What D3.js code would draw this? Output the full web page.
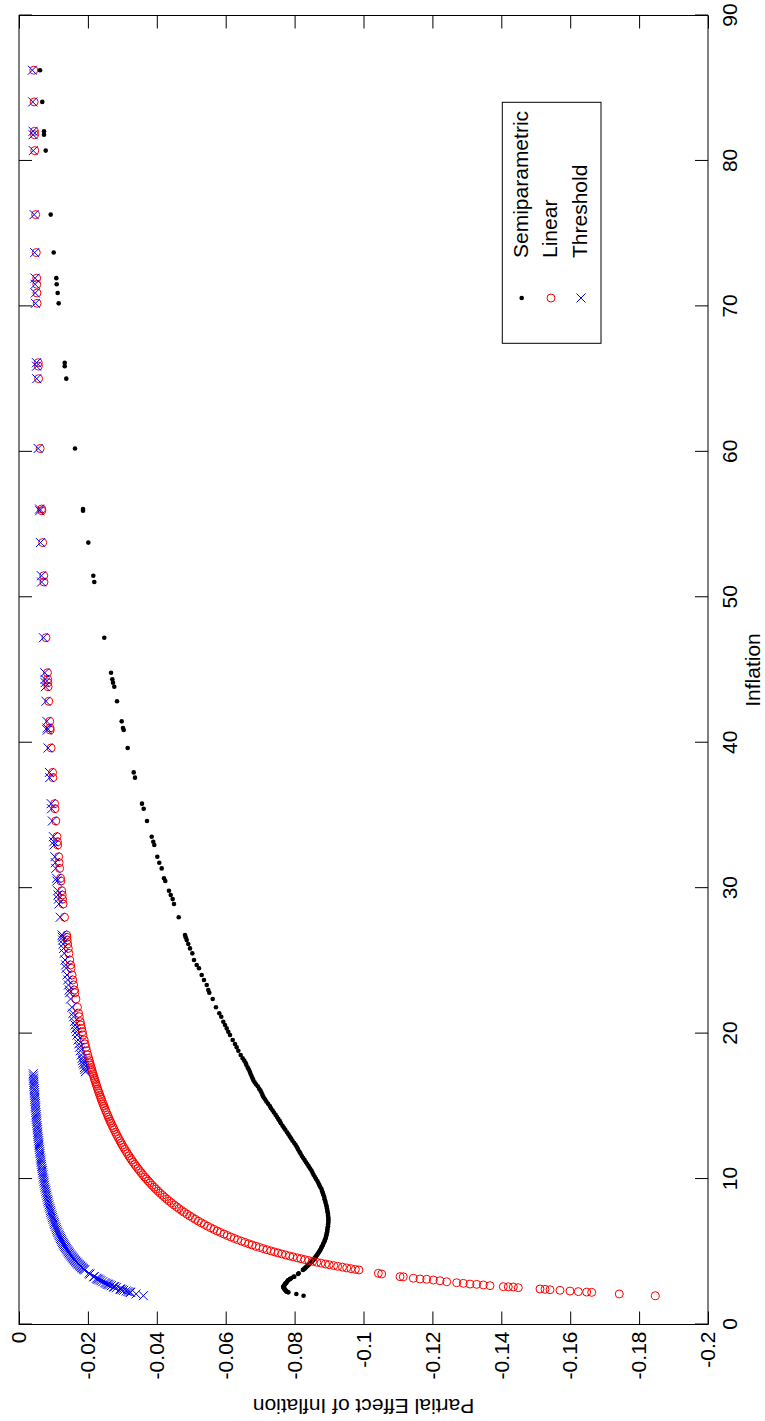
<!DOCTYPE html>
<html>
<head>
<meta charset="utf-8">
<script src="https://cdn.jsdelivr.net/npm/d3@7"></script>
<style>
  html, body { margin: 0; padding: 0; background: #ffffff; }
  svg { display: block; }
  text { font-family: "Liberation Sans", Arial, Helvetica, sans-serif; fill: #000; }
</style>
</head>
<body>
<svg id="chart" width="765" height="1421"></svg>
<script>
// Observed inflation rates (one entry per observation, shared by all three models)
const inflation = [
  86.24, 84.06, 82.04, 81.80, 80.71, 76.31, 73.70, 71.94, 71.52, 70.92,
  70.21, 66.13, 65.89, 65.03, 60.23, 56.07, 55.95, 53.76, 51.48, 51.05,
  47.22, 44.81, 44.36, 44.13, 43.85, 42.85, 41.47, 41.01, 40.87, 39.64,
  37.96, 37.60, 35.81, 35.46, 34.62, 33.54, 33.19, 32.97, 32.16, 31.75,
  31.36, 30.68, 30.49, 29.82, 29.53, 29.25, 28.91, 28.00, 26.78, 26.62,
  26.43, 26.16, 25.86, 25.52, 25.06, 24.72, 24.49, 24.03, 23.69, 23.34,
  23.00, 22.81, 22.38, 21.81, 21.40, 21.16, 20.82, 20.59, 20.36, 20.13,
  19.90, 19.56, 19.29, 19.06, 18.82, 18.53, 18.30, 18.14, 17.98, 17.85,
  17.66, 17.53, 17.38, 17.24, 17.09, 16.93, 16.81, 16.66, 16.52, 16.38,
  16.21, 16.08, 15.93, 15.77, 15.62, 15.49, 15.33, 15.18, 15.02, 14.89,
  14.73, 14.58, 14.41, 14.27, 14.12, 13.98, 13.84, 13.67, 13.53, 13.39,
  13.22, 13.08, 12.93, 12.79, 12.63, 12.48, 12.34, 12.19, 12.04, 11.88,
  11.75, 11.59, 11.44, 11.31, 11.16, 11.01, 10.87, 10.72, 10.58, 10.43,
  10.29, 10.14, 10.01, 9.86, 9.73, 9.58, 9.44, 9.31, 9.17, 9.03,
  8.89, 8.76, 8.62, 8.49, 8.36, 8.22, 8.09, 7.97, 7.84, 7.72,
  7.59, 7.47, 7.35, 7.23, 7.11, 6.99, 6.88, 6.76, 6.65, 6.54,
  6.43, 6.33, 6.22, 6.12, 6.02, 5.92, 5.83, 5.73, 5.64, 5.55,
  5.47, 5.38, 5.30, 5.22, 5.14, 5.06, 4.99, 4.92, 4.85, 4.78,
  4.71, 4.65, 4.58, 4.52, 4.46, 4.40, 4.34, 4.28, 4.22, 4.16,
  4.11, 4.05, 4.00, 3.94, 3.89, 3.84, 3.79, 3.75, 3.52, 3.47,
  3.29, 3.28, 3.18, 3.13, 3.11, 3.06, 3.01, 2.94, 2.87, 2.83,
  2.78, 2.76, 2.72, 2.67, 2.60, 2.59, 2.58, 2.53, 2.44, 2.42,
  2.39, 2.35, 2.30, 2.26, 2.23, 2.21, 2.10, 1.98
];

// Partial effect of inflation, semiparametric model
const semiparametric = [
  -0.0061, -0.00676, -0.00726, -0.00726, -0.00775, -0.0092, -0.01007, -0.01083, -0.01094, -0.01123,
  -0.01152, -0.01327, -0.01327, -0.01373, -0.01626, -0.01858, -0.01858, -0.02012, -0.02157, -0.02186,
  -0.02476, -0.02671, -0.02708, -0.02729, -0.02766, -0.02845, -0.02981, -0.03019, -0.03039, -0.03155,
  -0.0333, -0.03367, -0.0357, -0.0362, -0.03716, -0.03852, -0.03898, -0.03927, -0.04015, -0.04072,
  -0.04142, -0.04209, -0.04247, -0.04354, -0.04404, -0.04461, -0.04499, -0.04636, -0.04819, -0.04839,
  -0.04868, -0.04914, -0.04964, -0.05031, -0.0508, -0.05158, -0.05225, -0.05303, -0.0537, -0.05449,
  -0.05495, -0.05524, -0.05623, -0.05718, -0.05814, -0.05872, -0.0593, -0.0598, -0.06029, -0.06075,
  -0.06125, -0.06203, -0.0627, -0.06319, -0.06366, -0.06435, -0.06493, -0.0654, -0.0658, -0.0660,
  -0.0664, -0.0667, -0.0670, -0.0672, -0.0675, -0.0678, -0.0680, -0.0684, -0.0688, -0.0693,
  -0.0697, -0.0701, -0.0704, -0.0707, -0.0710, -0.0714, -0.0718, -0.0723, -0.0728, -0.0731,
  -0.0736, -0.0740, -0.0745, -0.0749, -0.0753, -0.0757, -0.0760, -0.0765, -0.0769, -0.0773,
  -0.0778, -0.0782, -0.0786, -0.0790, -0.0794, -0.0799, -0.0803, -0.0807, -0.0810, -0.0814,
  -0.0817, -0.0821, -0.0825, -0.0829, -0.0833, -0.0837, -0.0841, -0.0845, -0.0849, -0.0852,
  -0.0855, -0.0859, -0.0862, -0.0866, -0.0869, -0.0872, -0.0875, -0.0878, -0.0880, -0.0882,
  -0.0884, -0.0886, -0.0887, -0.0889, -0.0890, -0.0892, -0.0893, -0.0894, -0.0895, -0.0896,
  -0.0897, -0.0897, -0.0898, -0.0898, -0.0898, -0.0898, -0.0897, -0.0897, -0.0896, -0.0895,
  -0.0895, -0.0894, -0.0893, -0.0892, -0.0891, -0.0890, -0.0888, -0.0887, -0.0885, -0.0883,
  -0.0882, -0.0880, -0.0878, -0.0877, -0.0875, -0.0873, -0.0871, -0.0869, -0.0867, -0.0865,
  -0.0863, -0.0861, -0.0859, -0.0857, -0.0855, -0.0853, -0.0850, -0.0848, -0.0845, -0.0843,
  -0.0841, -0.0838, -0.0836, -0.0833, -0.0831, -0.0829, -0.0826, -0.0824, -0.0812, -0.0810,
  -0.0799, -0.0797, -0.0790, -0.0787, -0.0786, -0.0782, -0.0780, -0.0778, -0.0776, -0.0774,
  -0.0773, -0.0772, -0.0771, -0.0769, -0.0767, -0.0767, -0.0767, -0.0768, -0.0771, -0.0771,
  -0.0772, -0.0774, -0.0775, -0.0777, -0.0780, -0.0782, -0.0805, -0.0826
];

// Partial effect of inflation, linear model
const linear = [
  -0.00429, -0.0044, -0.00451, -0.00452, -0.00458, -0.00485, -0.00502, -0.00514, -0.00517, -0.00522,
  -0.00527, -0.0056, -0.00562, -0.00569, -0.00614, -0.0066, -0.00661, -0.00688, -0.00719, -0.00725,
  -0.00784, -0.00826, -0.00834, -0.00838, -0.00844, -0.00863, -0.00892, -0.00902, -0.00905, -0.00933,
  -0.00975, -0.00984, -0.01033, -0.01043, -0.01069, -0.01103, -0.01115, -0.01122, -0.01151, -0.01165,
  -0.0118, -0.01206, -0.01214, -0.01241, -0.01253, -0.01265, -0.0128, -0.01321, -0.01382, -0.0139,
  -0.014, -0.01414, -0.01431, -0.0145, -0.01476, -0.01497, -0.01511, -0.0154, -0.01562, -0.01585,
  -0.01609, -0.01622, -0.01653, -0.01696, -0.01729, -0.01749, -0.01777, -0.01797, -0.01817, -0.01838,
  -0.01859, -0.01892, -0.01918, -0.01941, -0.01966, -0.01997, -0.02022, -0.0204, -0.02058, -0.02073,
  -0.02095, -0.02111, -0.02129, -0.02146, -0.02165, -0.02185, -0.02201, -0.02221, -0.0224, -0.02259,
  -0.02283, -0.02301, -0.02323, -0.02346, -0.02369, -0.02389, -0.02414, -0.02437, -0.02463, -0.02485,
  -0.02512, -0.02538, -0.02568, -0.02593, -0.0262, -0.02647, -0.02673, -0.02707, -0.02735, -0.02763,
  -0.02799, -0.02829, -0.02862, -0.02893, -0.0293, -0.02965, -0.02998, -0.03035, -0.03073, -0.03114,
  -0.03149, -0.03192, -0.03234, -0.03271, -0.03315, -0.03361, -0.03404, -0.03451, -0.03497, -0.03547,
  -0.03596, -0.03649, -0.03696, -0.03753, -0.03803, -0.03862, -0.0392, -0.03974, -0.04035, -0.04097,
  -0.04162, -0.04224, -0.04292, -0.04358, -0.04426, -0.04501, -0.04574, -0.04642, -0.04719, -0.04793,
  -0.04875, -0.04953, -0.05034, -0.05118, -0.05204, -0.05293, -0.05378, -0.05473, -0.05564, -0.05657,
  -0.05754, -0.05845, -0.05949, -0.06046, -0.06146, -0.0625, -0.06346, -0.06457, -0.0656, -0.06667,
  -0.06764, -0.06877, -0.06981, -0.07088, -0.07198, -0.07312, -0.07415, -0.0752, -0.07629, -0.07741,
  -0.07856, -0.07957, -0.08079, -0.08186, -0.08296, -0.08409, -0.08525, -0.08645, -0.08768, -0.08894,
  -0.09002, -0.09136, -0.0925, -0.09391, -0.09512, -0.09635, -0.09763, -0.09867, -0.1043, -0.10528,
  -0.1106, -0.11155, -0.11446, -0.1164, -0.11835, -0.12026, -0.12221, -0.12415, -0.12705, -0.12897,
  -0.13091, -0.13286, -0.13477, -0.13672, -0.14058, -0.14203, -0.14348, -0.14493, -0.15123, -0.15269,
  -0.15414, -0.15704, -0.15994, -0.16235, -0.16479, -0.16624, -0.17425, -0.1847
];

// Partial effect of inflation, threshold model
const threshold = [
  -0.00388, -0.00399, -0.00408, -0.0041, -0.00415, -0.00439, -0.00455, -0.00466, -0.00468, -0.00472,
  -0.00477, -0.00507, -0.00508, -0.00515, -0.00556, -0.00597, -0.00599, -0.00623, -0.00651, -0.00656,
  -0.00709, -0.00748, -0.00755, -0.00759, -0.00764, -0.00782, -0.00808, -0.00817, -0.0082, -0.00845,
  -0.00883, -0.00891, -0.00935, -0.00945, -0.00968, -0.00999, -0.01009, -0.01016, -0.01042, -0.01055,
  -0.01068, -0.01092, -0.01099, -0.01123, -0.01134, -0.01145, -0.01159, -0.01196, -0.01251, -0.01258,
  -0.01268, -0.01281, -0.01295, -0.01313, -0.01337, -0.01355, -0.01368, -0.01394, -0.01414, -0.01435,
  -0.01457, -0.01469, -0.01497, -0.01536, -0.01565, -0.01583, -0.01609, -0.01627, -0.01645, -0.01664,
  -0.01683, -0.01713, -0.01737, -0.01758, -0.0178, -0.01808, -0.01831, -0.01847, -0.01863, -0.01877,
  -0.01897, -0.01911, -0.01927, -0.00415, -0.00418, -0.00422, -0.00425, -0.00429, -0.00433, -0.00437,
  -0.00441, -0.00445, -0.00449, -0.00453, -0.00458, -0.00462, -0.00466, -0.00471, -0.00476, -0.0048,
  -0.00485, -0.0049, -0.00496, -0.00501, -0.00506, -0.00511, -0.00517, -0.00523, -0.00528, -0.00534,
  -0.00541, -0.00547, -0.00553, -0.00559, -0.00566, -0.00573, -0.00579, -0.00587, -0.00594, -0.00602,
  -0.00609, -0.00617, -0.00625, -0.00632, -0.00641, -0.00649, -0.00658, -0.00667, -0.00676, -0.00686,
  -0.00695, -0.00705, -0.00714, -0.00725, -0.00735, -0.00746, -0.00757, -0.00768, -0.0078, -0.00792,
  -0.00804, -0.00816, -0.00829, -0.00842, -0.00855, -0.0087, -0.00884, -0.00897, -0.00912, -0.00926,
  -0.00942, -0.00957, -0.00973, -0.00989, -0.01006, -0.01023, -0.01039, -0.01058, -0.01075, -0.01093,
  -0.01112, -0.0113, -0.0115, -0.01168, -0.01188, -0.01208, -0.01226, -0.01248, -0.01268, -0.01288,
  -0.01307, -0.01329, -0.01349, -0.0137, -0.01391, -0.01413, -0.01433, -0.01453, -0.01474, -0.01496,
  -0.01518, -0.01538, -0.01561, -0.01582, -0.01603, -0.01625, -0.01647, -0.01671, -0.01694, -0.01719,
  -0.0174, -0.01765, -0.01788, -0.01815, -0.01838, -0.01862, -0.01887, -0.01907, -0.0203, -0.0206,
  -0.0217, -0.0218, -0.0225, -0.0228, -0.0230, -0.0234, -0.0238, -0.0243, -0.0249, -0.0253,
  -0.0257, -0.0259, -0.0263, -0.0268, -0.0275, -0.0276, -0.0277, -0.0283, -0.0293, -0.0295,
  -0.0299, -0.0304, -0.0311, -0.0316, -0.0321, -0.0324, -0.0340, -0.0361
];

// Axis ticks
const inflationTicks = [0, 10, 20, 30, 40, 50, 60, 70, 80, 90];
const effectTicks = [-0.2, -0.18, -0.16, -0.14, -0.12, -0.1, -0.08, -0.06, -0.04, -0.02, 0];
const effectTickLabels = ["-0.2", "-0.18", "-0.16", "-0.14", "-0.12", "-0.1", "-0.08", "-0.06", "-0.04", "-0.02", "0"];
const seriesNames = ["Semiparametric", "Linear", "Threshold"];

const W = 765, H = 1421;
const FONT = 21;
const svg = d3.select("#chart");

// The landscape figure is laid out in its own frame, then turned a quarter turn
// counter-clockwise onto the portrait page.
const fig = svg.append("g").attr("transform", `translate(0,${H}) rotate(-90)`);

const plot = { left: 96.5, right: 1405.5, top: 19, bottom: 708 };
const x = d3.scaleLinear().domain([0, 90]).range([plot.left, plot.right]);
const y = d3.scaleLinear().domain([-0.2, 0]).range([plot.bottom, plot.top]);

const TICK = 13;

function styleAxis(g) {
  g.attr("font-size", FONT)
   .attr("font-family", '"Liberation Sans", Arial, Helvetica, sans-serif');
  g.select(".domain").remove();
  g.selectAll(".tick line").attr("stroke", "#000").attr("stroke-width", 1);
  g.selectAll(".tick text").attr("fill", "#000");
}

// x axis (inflation) with labels, and mirrored ticks on the opposite edge
fig.append("g")
  .attr("transform", `translate(0,${plot.bottom})`)
  .call(d3.axisBottom(x).tickValues(inflationTicks).tickFormat(d3.format("d"))
        .tickSizeInner(-TICK).tickSizeOuter(0).tickPadding(14))
  .call(styleAxis);

fig.append("g")
  .attr("transform", `translate(0,${plot.top})`)
  .call(d3.axisTop(x).tickValues(inflationTicks).tickFormat("")
        .tickSizeInner(-TICK).tickSizeOuter(0))
  .call(styleAxis);

// y axis (partial effect) with labels, and mirrored ticks on the opposite edge
fig.append("g")
  .attr("transform", `translate(${plot.left},0)`)
  .call(d3.axisLeft(y).tickValues(effectTicks).tickFormat((d, i) => effectTickLabels[i])
        .tickSizeInner(-TICK).tickSizeOuter(0).tickPadding(7))
  .call(styleAxis);

fig.append("g")
  .attr("transform", `translate(${plot.right},0)`)
  .call(d3.axisRight(y).tickValues(effectTicks).tickFormat("")
        .tickSizeInner(-TICK).tickSizeOuter(0))
  .call(styleAxis);

// plot frame
fig.append("rect")
  .attr("x", plot.left).attr("y", plot.top)
  .attr("width", plot.right - plot.left).attr("height", plot.bottom - plot.top)
  .attr("fill", "none").attr("stroke", "#000").attr("stroke-width", 1);

// axis titles
fig.append("text")
  .attr("x", (plot.left + plot.right) / 2).attr("y", 760)
  .attr("text-anchor", "middle").attr("font-size", FONT)
  .text("Inflation");

fig.append("text")
  .attr("transform", `translate(22,${(plot.top + plot.bottom) / 2}) rotate(-90)`)
  .attr("text-anchor", "middle").attr("font-size", FONT)
  .text("Partial Effect of Inflation");

const obs = inflation.map((v, i) => ({
  inf: v, semi: semiparametric[i], lin: linear[i], thr: threshold[i]
}));

fig.append("defs").append("clipPath").attr("id", "plot-clip")
  .append("rect").attr("x", plot.left).attr("y", plot.top)
  .attr("width", plot.right - plot.left).attr("height", plot.bottom - plot.top);

const marks = fig.append("g").attr("clip-path", "url(#plot-clip)");

const DOT_R = 2.3, RING_R = 4, CROSS = 4.5;
const crossPath = `M${-CROSS},${-CROSS}L${CROSS},${CROSS}M${-CROSS},${CROSS}L${CROSS},${-CROSS}`;

// Semiparametric: black dots
marks.append("g").selectAll("circle").data(obs).join("circle")
  .attr("cx", d => x(d.inf)).attr("cy", d => y(d.semi))
  .attr("r", DOT_R).attr("fill", "#000");

// Linear: red open circles
marks.append("g").selectAll("circle").data(obs).join("circle")
  .attr("cx", d => x(d.inf)).attr("cy", d => y(d.lin))
  .attr("r", RING_R).attr("fill", "none").attr("stroke", "#ff0000").attr("stroke-width", 1);

// Threshold: blue crosses
marks.append("g").selectAll("path").data(obs).join("path")
  .attr("transform", d => `translate(${x(d.inf)},${y(d.thr)})`)
  .attr("d", crossPath).attr("fill", "none").attr("stroke", "#0000ff").attr("stroke-width", 1);

// legend
const legend = fig.append("g");
const legendBox = { x: 1077.7, y: 502.3, w: 241, h: 98.7 };
legend.append("rect")
  .attr("x", legendBox.x).attr("y", legendBox.y)
  .attr("width", legendBox.w).attr("height", legendBox.h)
  .attr("fill", "#fff").attr("stroke", "#000").attr("stroke-width", 1);

const rowY = [521.7, 551, 581];
const markerX = 1123, labelX = 1163;
const rows = legend.selectAll("g.row").data(seriesNames).join("g")
  .attr("class", "row")
  .attr("transform", (d, i) => `translate(0,${rowY[i]})`);

rows.append("text")
  .attr("x", labelX).attr("y", 0).attr("dy", "0.3em")
  .attr("font-size", FONT)
  .text(d => d);

rows.filter((d, i) => i === 0).append("circle")
  .attr("cx", markerX).attr("cy", 0).attr("r", DOT_R).attr("fill", "#000");
rows.filter((d, i) => i === 1).append("circle")
  .attr("cx", markerX).attr("cy", 0).attr("r", RING_R)
  .attr("fill", "none").attr("stroke", "#ff0000").attr("stroke-width", 1);
rows.filter((d, i) => i === 2).append("path")
  .attr("transform", `translate(${markerX},0)`)
  .attr("d", crossPath).attr("fill", "none").attr("stroke", "#0000ff").attr("stroke-width", 1);
</script>
</body>
</html>
